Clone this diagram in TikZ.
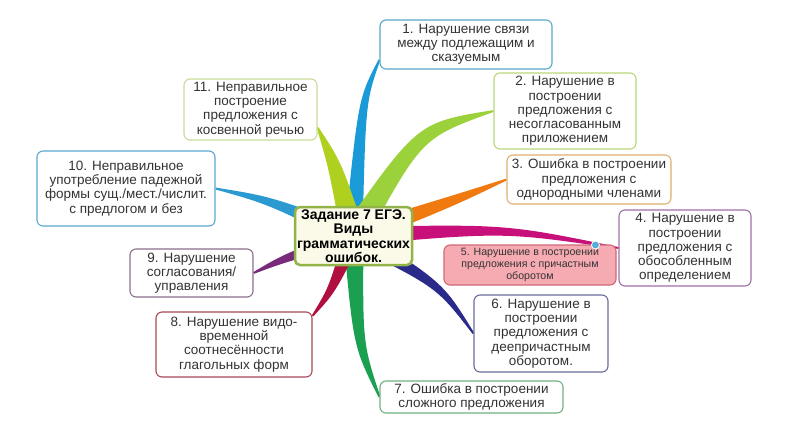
\documentclass[tikz,border=0pt]{standalone}
\usepackage{fontspec}
\setmainfont{Liberation Sans}
\usetikzlibrary{calc}
\pgfdeclarelayer{bg}
\pgfsetlayers{bg,main}
\definecolor{cB1}{HTML}{1A9BD7}
\definecolor{cB2}{HTML}{9BD13A}
\definecolor{cB3}{HTML}{F07A10}
\definecolor{cB4}{HTML}{C8107A}
\definecolor{cB6}{HTML}{2A2A8A}
\definecolor{cB7}{HTML}{1AA050}
\definecolor{cB8}{HTML}{B01040}
\definecolor{cB9}{HTML}{7A2A7A}
\definecolor{cB10}{HTML}{2A9AD0}
\definecolor{cB11}{HTML}{B0D020}
\definecolor{k1}{HTML}{5AA8C8}
\definecolor{k2}{HTML}{B8D878}
\definecolor{k3}{HTML}{E0B070}
\definecolor{k4}{HTML}{A070A8}
\definecolor{k5}{HTML}{D06878}
\definecolor{f5}{HTML}{F6AAB2}
\definecolor{k6}{HTML}{6A6A9A}
\definecolor{k7}{HTML}{70B080}
\definecolor{k8}{HTML}{A84858}
\definecolor{k9}{HTML}{8A708A}
\definecolor{k10}{HTML}{5AA8D0}
\definecolor{k11}{HTML}{C8DC98}
\definecolor{kc}{HTML}{92B347}
\definecolor{fc}{HTML}{FBF9E8}
\definecolor{txt}{HTML}{333333}
% #1 colour, #2 end, #3 control, #4 half width at start, #5 half width at control
\newcommand\brn[5]{%
  \fill[#1] ($(ctr)!#4pt!90:(#3)$) .. controls ($(#3)!#5pt!90:(#2)$) .. ($(#2)!0.9pt!-90:(#3)$)
     -- ($(#2)!0.9pt!90:(#3)$) .. controls ($(#3)!#5pt!-90:(#2)$) .. ($(ctr)!#4pt!-90:(#3)$) -- cycle;}
\begin{document}
\begin{tikzpicture}[x=1pt,y=-1pt,
  box/.style={draw, rounded corners=6, line width=1.1, fill=white, align=center,
    inner sep=0pt, text=txt, font=\fontsize{13.5}{14.2}\selectfont},
  ]
\useasboundingbox (0,0) rectangle (800,445);
\coordinate (ctr) at (353.5,236);
\path
 node[box, draw=k1, minimum width=172, minimum height=49] (b1) at (466,44.5) {1. Нарушение связи\\между подлежащим и\\сказуемым}
 node[box, draw=k2, minimum width=142, minimum height=76] (b2) at (565,111) {2. Нарушение в\\построении\\предложения с\\несогласованным\\приложением}
 node[box, draw=k3, minimum width=164, minimum height=49] (b3) at (589,179.5) {3. Ошибка в построении\\предложения с\\однородными членами}
 node[box, draw=k4, minimum width=132, minimum height=76] (b4) at (685,248) {4. Нарушение в\\построении\\предложения с\\обособленным\\определением}
 node[box, draw=k6, minimum width=134, minimum height=77] (b6) at (541,333.5) {6. Нарушение в\\построении\\предложения с\\деепричастным\\оборотом.}
 node[box, draw=k7, minimum width=183, minimum height=32] (b7) at (471.5,397) {7. Ошибка в построении\\сложного предложения}
 node[box, draw=k8, minimum width=156, minimum height=65] (b8) at (234,344.5) {8. Нарушение видо-\\временной\\соотнесённости\\глагольных форм}
 node[box, draw=k9, minimum width=123, minimum height=48] (b9) at (191.5,273) {9. Нарушение\\согласования/\\управления}
 node[box, draw=k10, minimum width=178, minimum height=75] (b10) at (126,188.5) {10. Неправильное\\употребление падежной\\формы сущ./мест./числит.\\с предлогом и без}
 node[box, draw=k11, minimum width=133, minimum height=61] (b11) at (250.5,109.5) {11. Неправильное\\построение\\предложения с\\косвенной речью};
\node[box, draw=k5, fill=f5, minimum width=172, minimum height=40,
  font=\fontsize{10.6}{12}\selectfont] (b5) at (530,265) {5. Нарушение в построении\\предложения с причастным\\оборотом};
% branches on background layer
\begin{pgfonlayer}{bg}
\fill[white] (0,0) rectangle (800,445);
\brn{cB1}{b1.190}{362,100}{9}{4}
\brn{cB2}{b2.west}{420,130}{13}{8}
\brn{cB3}{b3.west}{455,200}{10}{5}
\brn{cB4}{b4.west}{505,228}{9}{4}
\brn{cB6}{b6.west}{440,285}{9}{4}
\brn{cB7}{b7.west}{358,345}{10}{5}
\brn{cB8}{b8.20}{332,290}{9}{4}
\brn{cB9}{b9.east}{285,258}{8}{4}
\brn{cB10}{b10.east}{268,200}{9}{4}
\brn{cB11}{b11.-15}{335,165}{12}{7}
\end{pgfonlayer}
\node[circle, fill=cB10!80!white, draw=white, line width=0.8, minimum size=8, inner sep=0] (dot) at ($(b4.west)+(-23,-3)$) {};
% central topic
\node[draw=kc, fill=fc, line width=2.5, rounded corners=5, minimum width=117, minimum height=58,
  align=center, inner sep=0, font=\bfseries\fontsize{14}{14.5}\selectfont, text=black] (c) at (ctr)
  {Задание 7 ЕГЭ.\\Виды\\грамматических\\ошибок.};
\end{tikzpicture}
\end{document}
